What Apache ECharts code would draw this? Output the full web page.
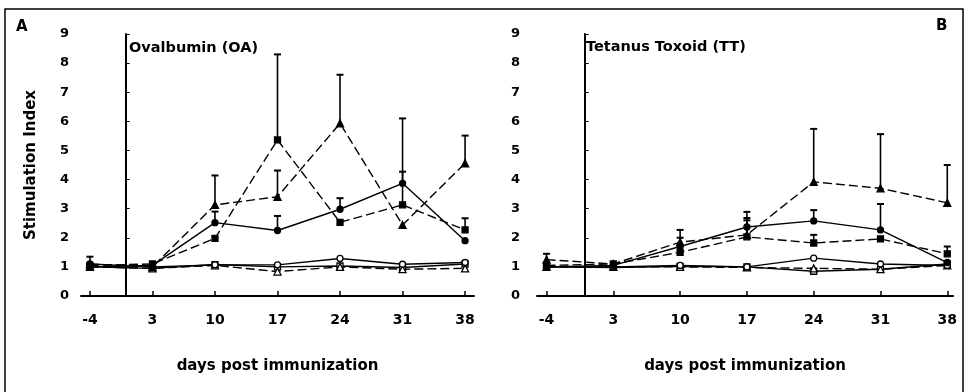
<!DOCTYPE html>
<html><head><meta charset="utf-8">
<script src="https://cdn.jsdelivr.net/npm/echarts@6/dist/echarts.min.js"></script>
<style>html,body{margin:0;padding:0;background:#fff}#c{width:969px;height:392px}</style>
</head><body><div id="c"></div>
<script>
const days = [-4, 3, 10, 17, 24, 31, 38];
const yTicks = [0,1,2,3,4,5,6,7,8,9];

// Panel A: Ovalbumin (OA)
const oaTri = [1.1, 1.0, 3.13, 3.41, 5.93, 2.44, 4.56];
const oaTriErr = [1.35, null, 4.14, 4.31, 7.6, null, 5.51];
const oaSq = [1.05, 1.1, 1.98, 5.36, 2.53, 3.13, 2.27];
const oaSqErr = [null, null, null, 8.3, null, 4.27, 2.67];
const oaCirc = [1.0, 1.05, 2.52, 2.25, 2.98, 3.87, 1.9];
const oaCircErr = [null, null, 2.9, 2.75, 3.36, 6.1, null];
const oaOpenCirc = [1.1, 1.0, 1.07, 1.07, 1.29, 1.09, 1.15];
const oaOpenTri = [1.0, 0.95, 1.05, 0.84, 1.0, 0.92, 0.95];
const oaOpenSq = [1.0, 0.95, 1.08, 1.0, 1.03, 0.98, 1.1];

// Panel B: Tetanus Toxoid (TT)
const ttTri = [1.25, 1.1, 1.85, 2.1, 3.92, 3.7, 3.2];
const ttTriErr = [1.45, null, 2.27, 2.89, 5.74, 5.56, 4.5];
const ttCirc = [1.0, 1.05, 1.7, 2.37, 2.58, 2.27, 1.15];
const ttCircErr = [null, null, 2.0, 2.68, 2.95, 3.16, null];
const ttSq = [1.05, 1.1, 1.5, 2.03, 1.82, 1.96, 1.45];
const ttSqErr = [null, null, null, 2.6, 2.1, null, 1.7];
const ttOpenCirc = [1.0, 1.0, 1.05, 1.0, 1.3, 1.1, 1.05];
const ttOpenTri = [1.0, 1.0, 1.0, 0.98, 0.95, 0.92, 1.05];
const ttOpenSq = [1.0, 0.98, 1.02, 1.0, 0.85, 0.92, 1.1];

const FONT = 'DejaVu Sans';
const DASH = [9, 4];

function pts(vals){ return days.map((d,i)=>[d, vals[i]]); }
function errPts(vals, errs){
  const out=[]; days.forEach((d,i)=>{ if(errs[i]!=null) out.push([d, vals[i], errs[i]]); }); return out;
}
function lineSeries(idx, vals, symbol, filled, dashed){
  return {
    type:'line', xAxisIndex:idx, yAxisIndex:idx, data:pts(vals),
    symbol:symbol, symbolSize: symbol==='triangle'?7:6,
    lineStyle:{color:'#000', width:1.4, type: dashed?DASH:'solid'},
    itemStyle:{color: filled?'#000':'#fff', borderColor:'#000', borderWidth:1.3},
    z:3, animation:false, silent:true
  };
}
function errSeries(idx, vals, errs){
  return {
    type:'custom', xAxisIndex:idx, yAxisIndex:idx, data:errPts(vals, errs),
    renderItem:function(params, api){
      const p0 = api.coord([api.value(0), api.value(1)]);
      const p1 = api.coord([api.value(0), api.value(2)]);
      const st = {stroke:'#000', lineWidth:1.6};
      return {type:'group', children:[
        {type:'line', shape:{x1:p0[0],y1:p0[1],x2:p1[0],y2:p1[1]}, style:st},
        {type:'line', shape:{x1:p1[0]-3.5,y1:p1[1],x2:p1[0]+3.5,y2:p1[1]}, style:{stroke:'#000', lineWidth:2}}
      ]};
    },
    z:2, animation:false, silent:true
  };
}
function xAxisDef(idx, min, max){
  return {
    type:'value', gridIndex:idx, min:min, max:max,
    name:'days post immunization', nameLocation:'middle', nameGap:63,
    nameTextStyle:{fontFamily:FONT, fontWeight:'bold', fontSize:15, color:'#000'},
    axisLine:{show:true, onZero:false, lineStyle:{color:'#000', width:2}},
    axisTick:{show:true, inside:true, length:5, customValues:days, lineStyle:{color:'#000', width:1.5}},
    axisLabel:{customValues:days, margin:17, fontFamily:FONT, fontWeight:'bold', fontSize:14, color:'#000'},
    splitLine:{show:false}
  };
}
function yAxisDef(idx, margin, name){
  return {
    type:'value', gridIndex:idx, min:0, max:9, interval:1,
    name:name, nameLocation:'middle', nameGap:42,
    nameTextStyle:{fontFamily:FONT, fontWeight:'bold', fontSize:15, color:'#000'},
    axisLine:{show:true, lineStyle:{color:'#000', width:2}},
    axisTick:{show:true, inside:true, length:4, lineStyle:{color:'#000', width:1}},
    axisLabel:{margin:margin, fontFamily:FONT, fontWeight:'bold', fontSize:13, color:'#000'},
    splitLine:{show:false}
  };
}
function vline(idx){
  return {
    type:'line', xAxisIndex:idx, yAxisIndex:idx, data:[], silent:true, animation:false,
    markLine:{symbol:['none','none'], silent:true, animation:false, label:{show:false},
      lineStyle:{color:'#000', width:1.5, type:'solid'}, data:[{xAxis:0}]}
  };
}

const chart = echarts.init(document.getElementById('c'), null, {renderer:'canvas'});
chart.setOption({
  backgroundColor:'#fff',
  animation:false,
  grid:[
    {left:81, top:34, width:393, height:262},
    {left:537, top:34, width:416, height:262}
  ],
  xAxis:[xAxisDef(0,-5,39), xAxisDef(1,-5,38.6)],
  yAxis:[yAxisDef(0,12,'Stimulation Index'), yAxisDef(1,17,'')],
  series:[
    vline(0),
    errSeries(0, oaTri, oaTriErr), errSeries(0, oaSq, oaSqErr), errSeries(0, oaCirc, oaCircErr),
    lineSeries(0, oaOpenSq, 'rect', false, false),
    lineSeries(0, oaOpenTri, 'triangle', false, true),
    lineSeries(0, oaOpenCirc, 'circle', false, false),
    lineSeries(0, oaCirc, 'circle', true, false),
    lineSeries(0, oaSq, 'rect', true, true),
    lineSeries(0, oaTri, 'triangle', true, true),
    vline(1),
    errSeries(1, ttTri, ttTriErr), errSeries(1, ttSq, ttSqErr), errSeries(1, ttCirc, ttCircErr),
    lineSeries(1, ttOpenSq, 'rect', false, false),
    lineSeries(1, ttOpenTri, 'triangle', false, true),
    lineSeries(1, ttOpenCirc, 'circle', false, false),
    lineSeries(1, ttCirc, 'circle', true, false),
    lineSeries(1, ttSq, 'rect', true, true),
    lineSeries(1, ttTri, 'triangle', true, true)
  ],
  graphic:[
    {type:'rect', shape:{x:5, y:9, width:958, height:400}, style:{fill:'none', stroke:'#000', lineWidth:1.5}, silent:true},
    {type:'text', left:16, top:20, style:{text:'A', fontFamily:FONT, fontWeight:'bold', fontSize:15, fill:'#000'}},
    {type:'text', left:936, top:19, style:{text:'B', fontFamily:FONT, fontWeight:'bold', fontSize:15, fill:'#000'}},
    {type:'text', left:129, top:41, style:{text:'Ovalbumin (OA)', fontFamily:FONT, fontWeight:'bold', fontSize:14.5, fill:'#000'}},
    {type:'text', left:586, top:40, style:{text:'Tetanus Toxoid (TT)', fontFamily:FONT, fontWeight:'bold', fontSize:14.5, fill:'#000'}}
  ]
});
</script></body></html>
